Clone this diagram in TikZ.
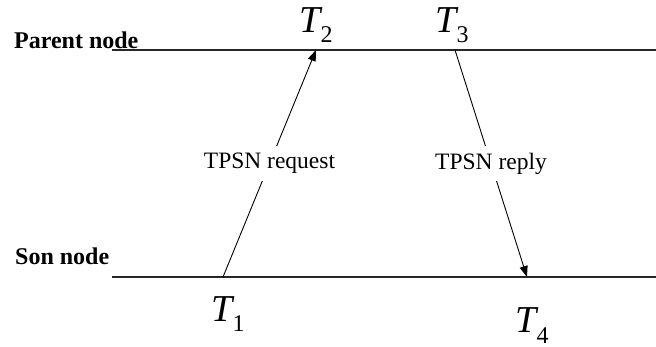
\documentclass[tikz,border=0pt]{standalone}
\usepackage{fontspec}
\setmainfont{Liberation Serif}
\usetikzlibrary{arrows.meta}
\newcommand{\tstamp}[1]{\textit{T}\kern-2pt\raisebox{-10pt}{\fontsize{24}{24}\selectfont #1}}
\begin{document}
\begin{tikzpicture}[x=1pt,y=-1pt,>={Triangle[length=11pt,width=8pt]},
  lane/.style={line width=1.3pt,black!85},
  msg/.style={line width=0.9pt},
  role/.style={anchor=base west,inner sep=0pt,font=\fontsize{24}{24}\selectfont\bfseries},
  stamp/.style={anchor=base west,inner sep=0pt,font=\fontsize{38}{38}\selectfont},
  lbl/.style={fill=white,inner xsep=1pt,inner ysep=7pt,font=\fontsize{23.5}{24}\selectfont}]
\useasboundingbox (0,0) rectangle (656,347);
\coordinate (pl) at (112,50);
\coordinate (pr) at (656,50);
\coordinate (sl) at (112,277);
\coordinate (sr) at (656,277);
\coordinate (e1) at (223,277);
\coordinate (e2) at (316,50);
\coordinate (e3) at (455,50);
\coordinate (e4) at (527,277);
\draw[lane] (pl) -- (pr);
\draw[lane] (sl) -- (sr);
\node[role] (parent) at (14,49) {Parent node};
\node[role] (son) at (15,265) {Son node};
\draw[msg,->] (e1) -- node[lbl] (req) {TPSN request} (e2);
\draw[msg,->] (e3) -- node[lbl] (rep) {TPSN reply} (e4);
\node[stamp] (t1) at (211,322) {\tstamp{1}};
\node[stamp] (t2) at (299,33) {\tstamp{2}};
\node[stamp] (t3) at (435,33) {\tstamp{3}};
\node[stamp] (t4) at (515,333) {\tstamp{4}};
\end{tikzpicture}
\end{document}
